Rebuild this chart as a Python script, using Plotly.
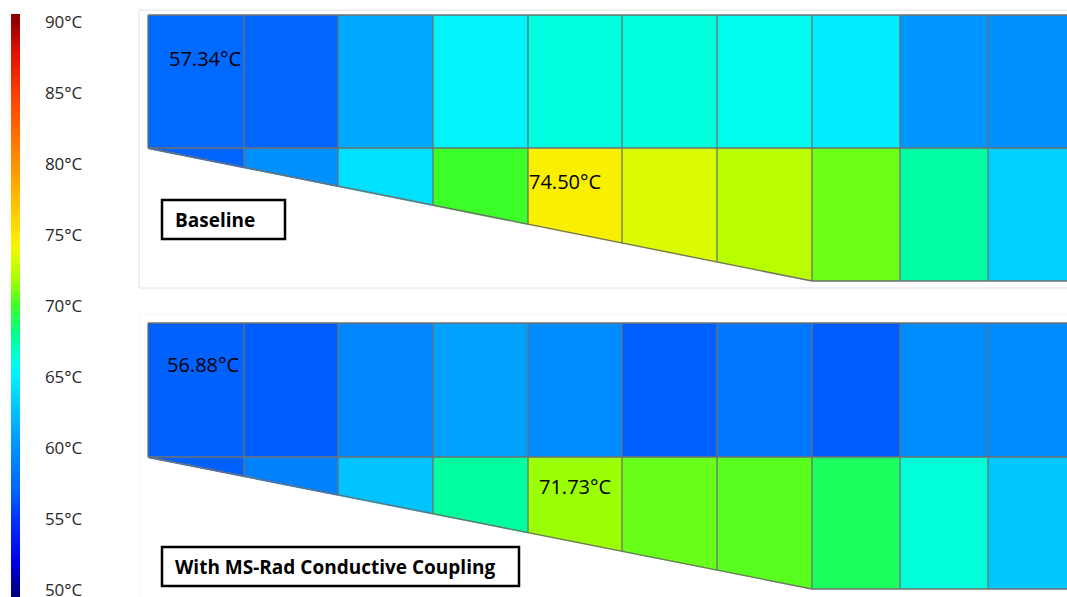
import plotly.graph_objects as go

# ---------------- data ----------------
segments = list(range(1, 11))
baseline_upper = [57.34, 57.1, 61.4, 65.3, 66.2, 66.3, 65.7, 64.8, 60.3, 60.0]
baseline_lower = [57.0, 60.0, 64.2, 70.0, 74.50, 73.4, 72.4, 70.9, 67.5, 63.5]
msrad_upper = [56.88, 56.7, 59.3, 60.8, 59.7, 56.8, 58.3, 56.7, 59.7, 59.6]
msrad_lower = [56.9, 59.0, 62.7, 67.6, 71.73, 70.8, 70.5, 68.9, 66.4, 63.0]
tick_values = [50, 55, 60, 65, 70, 75, 80, 85, 90]
panel_titles = ["Baseline", "With MS-Rad Conductive Coupling"]

# ---------------- colour scale (value -> colour) ----------------
CMIN, CMAX = 49.5, 90.56
cs_values = [49.5, 50, 52, 55, 57, 60, 63, 65, 66, 68, 70, 72, 74, 75, 80, 85, 88, 90, 90.56]
cs_colors = ["rgb(0,0,130)", "rgb(0,0,140)", "rgb(0,0,235)", "rgb(0,50,255)", "rgb(0,100,255)",
             "rgb(0,145,255)", "rgb(0,200,255)", "rgb(0,240,255)", "rgb(0,255,235)",
             "rgb(0,255,140)", "rgb(60,255,40)", "rgb(170,255,0)", "rgb(240,250,0)",
             "rgb(255,230,0)", "rgb(255,145,0)", "rgb(255,60,0)", "rgb(220,15,0)",
             "rgb(150,0,0)", "rgb(140,0,0)"]
colorscale = [[(v - CMIN) / (CMAX - CMIN), c] for v, c in zip(cs_values, cs_colors)]

# ---------------- geometry (screen-like layout units) ----------------
W, H = 1067, 597
col_edges = [148, 244, 338, 433, 528, 622, 717, 812, 900, 988, 1076]
slant_end = 812
panels = [dict(top=15, mid=148, bot=281), dict(top=323, mid=457, bot=589)]
line_col = "rgb(112,112,112)"

fig = go.Figure()

data_rows = [(baseline_upper, baseline_lower), (msrad_upper, msrad_lower)]
for (up, lo), p in zip(data_rows, panels):
    fig.add_trace(go.Heatmap(
        x=col_edges, y=[p["top"], p["mid"], p["bot"]], z=[up, lo],
        coloraxis="coloraxis", hoverinfo="skip"))

def ybot(x, p):
    x0 = col_edges[0]
    if x >= slant_end:
        return p["bot"]
    return p["mid"] + (x - x0) / (slant_end - x0) * (p["bot"] - p["mid"])

for p in panels:
    x0 = col_edges[0]
    # white mask below the tapered edge
    fig.add_trace(go.Scatter(
        x=[x0 - 3, slant_end, slant_end, x0 - 3, x0 - 3],
        y=[p["mid"] + 0.6, p["bot"] + 0.6, p["bot"] + 6, p["bot"] + 6, p["mid"] + 0.6],
        fill="toself", fillcolor="white", mode="none", hoverinfo="skip", showlegend=False))

for p in panels:
    xs, ys = [], []
    x0, x1 = col_edges[0], col_edges[-1]
    for yy in (p["top"], p["mid"]):
        xs += [x0, x1, None]; ys += [yy, yy, None]
    xs += [x0, slant_end, x1, None]; ys += [p["mid"], p["bot"], p["bot"], None]
    for x in col_edges:
        xs += [x, x, None]; ys += [p["top"], ybot(x, p), None]
    fig.add_trace(go.Scatter(x=xs, y=ys, mode="lines",
                             line=dict(color=line_col, width=1.3),
                             hoverinfo="skip", showlegend=False))

# panel frames
fig.add_shape(type="rect", x0=139, y0=10, x1=1090, y1=288,
              line=dict(color="rgb(226,226,226)", width=1), layer="below")
fig.add_shape(type="rect", x0=140, y0=314, x1=1090, y1=620,
              line=dict(color="rgb(246,246,246)", width=1), layer="below")

# title boxes
boxes = [(162, 200, 285, 239), (162, 547, 519, 586)]
for (bx0, by0, bx1, by1), title in zip(boxes, panel_titles):
    fig.add_shape(type="rect", x0=bx0, y0=by0, x1=bx1, y1=by1,
                  line=dict(color="black", width=2.5))
    fig.add_annotation(x=bx0 + 11, y=(by0 + by1) / 2, text=f"<b>{title}</b>",
                       xanchor="left", yanchor="middle", showarrow=False,
                       font=dict(family="Open Sans", size=19, color="black"))

# value labels
label_pos = [(205, 58, baseline_upper[0]), (565, 181, baseline_lower[4]),
             (203, 364, msrad_upper[0]), (575, 486, msrad_lower[4])]
for lx, ly, val in label_pos:
    fig.add_annotation(x=lx, y=ly, text=f"{val:.2f}°C", showarrow=False,
                       xanchor="center", yanchor="middle",
                       font=dict(family="Open Sans", size=20, color="black"))

fig.update_layout(
    width=W, height=H, margin=dict(l=0, r=0, t=0, b=0, pad=0, autoexpand=False),
    paper_bgcolor="white", plot_bgcolor="rgba(0,0,0,0)",
    showlegend=False,
    xaxis=dict(range=[0, W], visible=False, fixedrange=True, domain=[0, 1]),
    yaxis=dict(range=[H, 0], visible=False, fixedrange=True, domain=[0, 1]),
    coloraxis=dict(
        colorscale=colorscale, cmin=CMIN, cmax=CMAX,
        colorbar=dict(
            x=11 / W, xanchor="left", y=1 - 14 / H, yanchor="top",
            len=(H - 14) / H, lenmode="fraction", thickness=9,
            xpad=0, ypad=0, outlinewidth=0,
            tickvals=tick_values, ticktext=[f"{v}°C" for v in tick_values],
            ticks="outside", ticklen=22, tickcolor="rgba(0,0,0,0)",
            ticklabeloverflow="allow",
            tickfont=dict(family="Open Sans", size=17, color="rgb(40,40,40)"),
        ),
    ),
)

fig.write_html("out.html", config={"displayModeBar": False},
               post_script="document.body.style.margin='0';document.body.style.overflow='hidden';")
